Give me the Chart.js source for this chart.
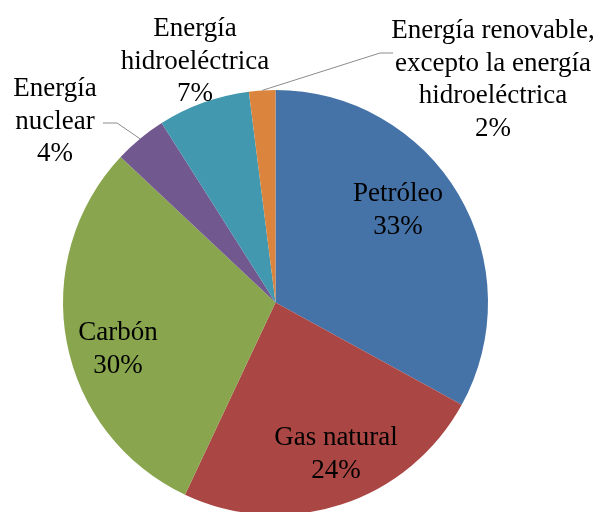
<!DOCTYPE html>
<html>
<head>
<meta charset="utf-8">
<script src="https://cdn.jsdelivr.net/npm/chart.js@4/dist/chart.umd.min.js"></script>
<style>
    html, body { margin: 0; padding: 0; background: #fff; overflow: hidden; }
    #wrap { width: 598px; height: 518px; position: relative; }
</style>
</head>
<body>
<div id="wrap"><canvas id="energyChart"></canvas></div>
<script>
// data (percent of total)
const categories = [
    'Petróleo',
    'Gas natural',
    'Carbón',
    'Energía\nnuclear',
    'Energía\nhidroeléctrica',
    'Energía renovable,\nexcepto la energía\nhidroeléctrica'
];
const shares = [33, 24, 30, 4, 7, 2];
const sliceColors = ['#4572A7', '#AA4643', '#89A54E', '#71588F', '#4198AF', '#DB843D'];

document.addEventListener('DOMContentLoaded', function() {
    drawChart();

    function drawChart() {
        // where each label block sits: centre x, centre y of the first line
        const labelSpots = [
            { x: 398, y: 194 },
            { x: 336, y: 438 },
            { x: 118, y: 333 },
            { x: 55, y: 89 },
            { x: 195, y: 29 },
            { x: 493, y: 31 }
        ];
        // leader lines for the small outside slices: elbow points, from label side
        const leaders = {
            3: [[103, 123], [117, 123]],
            5: [[393, 53], [380, 53]]
        };

        const sliceLabels = {
            id: 'sliceLabels',
            afterDatasetsDraw(chart) {
                const ctx = chart.ctx;
                const meta = chart.getDatasetMeta(0);
                const values = chart.data.datasets[0].data;
                const total = values.reduce((a, b) => a + b, 0);
                ctx.save();

                // leader lines
                ctx.strokeStyle = '#8c8c8c';
                ctx.lineWidth = 1;
                Object.keys(leaders).forEach(idx => {
                    const arc = meta.data[idx];
                    const mid = (arc.startAngle + arc.endAngle) / 2;
                    const ex = arc.x + Math.cos(mid) * arc.outerRadius;
                    const ey = arc.y + Math.sin(mid) * arc.outerRadius;
                    const pts = leaders[idx];
                    ctx.beginPath();
                    ctx.moveTo(pts[0][0], pts[0][1]);
                    ctx.lineTo(pts[1][0], pts[1][1]);
                    ctx.lineTo(ex, ey);
                    ctx.stroke();
                });

                // texts
                ctx.fillStyle = '#000';
                ctx.font = '27px "Liberation Serif", "Times New Roman", serif';
                ctx.textAlign = 'center';
                ctx.textBaseline = 'middle';
                const lineH = 32.5;
                chart.data.labels.forEach((name, i) => {
                    const lines = name.split('\n');
                    lines.push(Math.round(values[i] / total * 100) + '%');
                    const spot = labelSpots[i];
                    lines.forEach((t, k) => ctx.fillText(t, spot.x, spot.y + k * lineH));
                });
                ctx.restore();
            }
        };

        const ctx = document.getElementById('energyChart').getContext('2d');
        new Chart(ctx, {
            type: 'pie',
            data: {
                labels: categories,
                datasets: [{
                    data: shares,
                    backgroundColor: sliceColors,
                    borderWidth: 0
                }]
            },
            options: {
                responsive: true,
                maintainAspectRatio: false,
                animation: false,
                layout: {
                    padding: { left: 63, right: 110, top: 90, bottom: 3 }
                },
                plugins: {
                    legend: { display: false },
                    tooltip: { enabled: false }
                }
            },
            plugins: [sliceLabels]
        });
    }
});
</script>
</body>
</html>
